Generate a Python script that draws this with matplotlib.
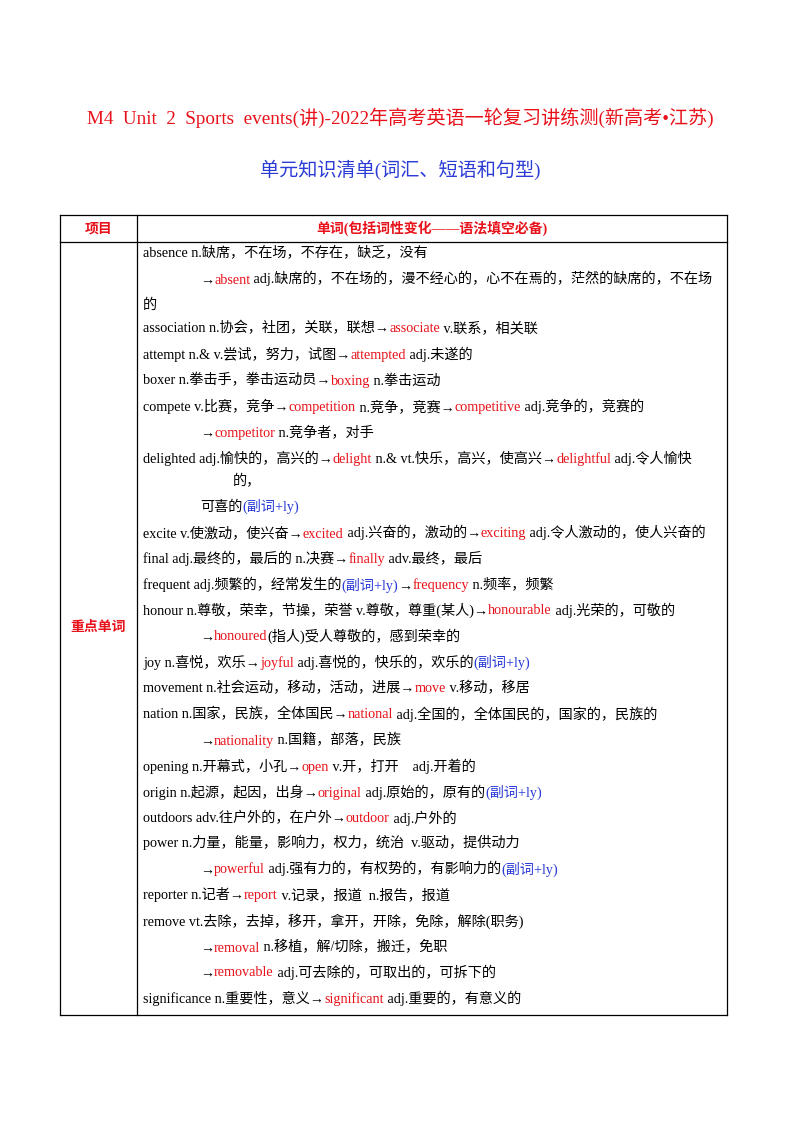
import matplotlib
matplotlib.use("Agg")
import matplotlib.pyplot as plt

RED = "#e8121a"
BLUE = "#2b3bd6"
K = "black"
FONT = ["Liberation Serif", "Noto Sans CJK SC"]

title = "M4  Unit  2  Sports  events(讲)-2022年高考英语一轮复习讲练测(新高考•江苏)"
subtitle = "单元知识清单(词汇、短语和句型)"
header_left = "项目"
header_right = "单词(包括词性变化——语法填空必备)"
row_label = "重点单词"

# each line: (indent level, [(text, colour), ...])
lines = [
    (0, [("absence n.缺席，不在场，不存在，缺乏，没有", K)]),
    (1, [("→", K), ("absent", RED), (" adj.缺席的，不在场的，漫不经心的，心不在焉的，茫然的缺席的，不在场", K)]),
    (0, [("的", K)]),
    (0, [("association n.协会，社团，关联，联想→", K), ("associate", RED), (" v.联系，相关联", K)]),
    (0, [("attempt n.& v.尝试，努力，试图→", K), ("attempted", RED), (" adj.未遂的", K)]),
    (0, [("boxer n.拳击手，拳击运动员→", K), ("boxing", RED), (" n.拳击运动", K)]),
    (0, [("compete v.比赛，竞争→", K), ("competition", RED), (" n.竞争，竞赛→", K), ("competitive", RED), (" adj.竞争的，竞赛的", K)]),
    (1, [("→", K), ("competitor", RED), (" n.竞争者，对手", K)]),
    (0, [("delighted adj.愉快的，高兴的→", K), ("delight", RED), (" n.& vt.快乐，高兴，使高兴→", K), ("delightful", RED), (" adj.令人愉快", K)]),
    (2, [("的，", K)]),
    (1, [("可喜的", K), ("(副词+ly)", BLUE)]),
    (0, [("excite v.使激动，使兴奋→", K), ("excited", RED), (" adj.兴奋的，激动的→", K), ("exciting", RED), (" adj.令人激动的，使人兴奋的", K)]),
    (0, [("final adj.最终的，最后的 n.决赛→", K), ("finally", RED), (" adv.最终，最后", K)]),
    (0, [("frequent adj.频繁的，经常发生的", K), ("(副词+ly)", BLUE), ("→", K), ("frequency", RED), (" n.频率，频繁", K)]),
    (0, [("honour n.尊敬，荣幸，节操，荣誉 v.尊敬，尊重(某人)→", K), ("honourable", RED), (" adj.光荣的，可敬的", K)]),
    (1, [("→", K), ("honoured", RED), ("(指人)受人尊敬的，感到荣幸的", K)]),
    (0, [("joy n.喜悦，欢乐→", K), ("joyful", RED), (" adj.喜悦的，快乐的，欢乐的", K), ("(副词+ly)", BLUE)]),
    (0, [("movement n.社会运动，移动，活动，进展→", K), ("move", RED), (" v.移动，移居", K)]),
    (0, [("nation n.国家，民族，全体国民→", K), ("national", RED), (" adj.全国的，全体国民的，国家的，民族的", K)]),
    (1, [("→", K), ("nationality", RED), (" n.国籍，部落，民族", K)]),
    (0, [("opening n.开幕式，小孔→", K), ("open", RED), (" v.开，打开    adj.开着的", K)]),
    (0, [("origin n.起源，起因，出身→", K), ("original", RED), (" adj.原始的，原有的", K), ("(副词+ly)", BLUE)]),
    (0, [("outdoors adv.往户外的，在户外→", K), ("outdoor", RED), (" adj.户外的", K)]),
    (0, [("power n.力量，能量，影响力，权力，统治  v.驱动，提供动力", K)]),
    (1, [("→", K), ("powerful", RED), (" adj.强有力的，有权势的，有影响力的", K), ("(副词+ly)", BLUE)]),
    (0, [("reporter n.记者→", K), ("report", RED), (" v.记录，报道  n.报告，报道", K)]),
    (0, [("remove vt.去除，去掉，移开，拿开，开除，免除，解除(职务)", K)]),
    (1, [("→", K), ("removal", RED), (" n.移植，解/切除，搬迁，免职", K)]),
    (1, [("→", K), ("removable", RED), (" adj.可去除的，可取出的，可拆下的", K)]),
    (0, [("significance n.重要性，意义→", K), ("significant", RED), (" adj.重要的，有意义的", K)]),
]
line_y = [253, 279, 304, 328, 354, 380, 407, 432, 458, 481, 506, 533, 559, 585,
          610, 636, 662, 688, 714, 740, 766, 792, 818, 843, 869, 895, 921, 947, 972, 998]
indent_x = [143, 200, 233]

W, H = 800, 1132
fig = plt.figure(figsize=(8, 11.32), dpi=100)
ax = fig.add_axes([0, 0, 1, 1])
ax.set_xlim(0, W)
ax.set_ylim(H, 0)
ax.axis("off")

ax.text(400, 118, title, color=RED, fontsize=13.8, ha="center", va="center", family=FONT)
ax.text(400, 170, subtitle, color=BLUE, fontsize=13.8, ha="center", va="center", family=FONT)

# table frame
L, M, R, T, HB, B = 60, 137, 727, 215, 242, 1015
for y in (T, HB, B):
    ax.plot([L, R], [y, y], color=K, lw=0.9)
for x in (L, M, R):
    ax.plot([x, x], [T, B], color=K, lw=0.9)
ax.text((L + M) / 2, (T + HB) / 2, header_left, color=RED, fontsize=10, weight="bold",
        ha="center", va="center", family=FONT)
ax.text((M + R) / 2, (T + HB) / 2, header_right, color=RED, fontsize=10, weight="bold",
        ha="center", va="center", family=FONT)
ax.text((L + M) / 2, 627, row_label, color=RED, fontsize=10, weight="bold",
        ha="center", va="center", family=FONT)

fig.canvas.draw()
renderer = fig.canvas.get_renderer()
inv = ax.transData.inverted()
for (ind, segs), y in zip(lines, line_y):
    x = indent_x[ind]
    for txt, col in segs:
        t = ax.text(x, y + 4.5, txt, color=col, fontsize=10.2, ha="left", va="baseline", family=FONT)
        bb = t.get_window_extent(renderer)
        x = inv.transform((bb.x1, bb.y0))[0]

fig.savefig("out.png", dpi=100)
